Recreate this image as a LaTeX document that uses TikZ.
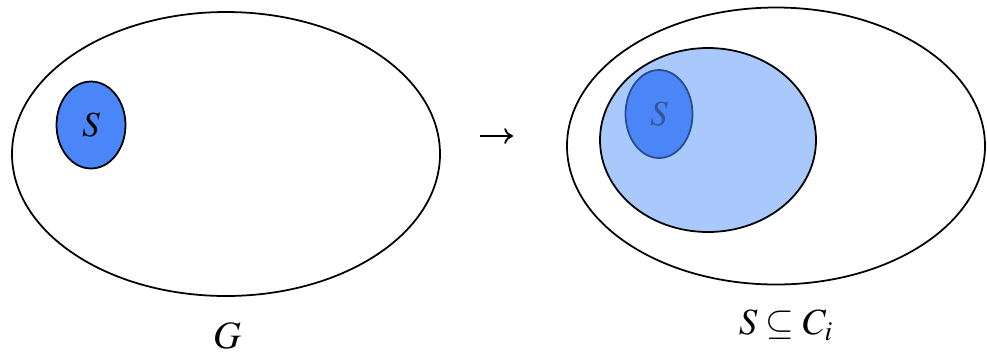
\documentclass[tikz,border=0pt]{standalone}
\usepackage{mathptmx}
\usetikzlibrary{arrows.meta,shapes.geometric}
\definecolor{setblue}{RGB}{74,134,247}
\definecolor{lightblue}{RGB}{169,200,252}
\definecolor{darkrim}{RGB}{40,76,140}
\definecolor{dimtext}{RGB}{52,84,150}
\begin{document}
\begin{tikzpicture}[>={To[length=5pt,width=9pt]},font=\fontsize{20}{24}\selectfont]
\tikzstyle{blob}=[draw,ellipse,line width=1pt,inner sep=0pt]
\useasboundingbox (0,0) rectangle (19.74,-7.12);
% left: the graph G with the set S
\node[blob,minimum width=8.56cm,minimum height=5.68cm] (g) at (4.52,-3.08) {};
\node[blob,fill=setblue,minimum width=1.38cm,minimum height=1.74cm] (s) at (1.82,-2.50) {$S$};
\node[font=\fontsize{22}{26}\selectfont] (gl) at (4.54,-6.72) {$G$};
% middle arrow
\coordinate (a1) at (9.60,-2.72);
\coordinate (a2) at (10.26,-2.72);
\draw[->,line width=1.1pt] (a1) -- (a2);
% right: the component C_i containing S
\node[blob,minimum width=8.36cm,minimum height=5.54cm] (h) at (15.52,-2.92) {};
\node[blob,fill=lightblue,minimum width=4.32cm,minimum height=3.68cm] (c) at (14.16,-2.80) {};
\node[blob,draw=darkrim,fill=setblue,text=dimtext,minimum width=1.34cm,minimum height=1.76cm] (s2) at (13.18,-2.28) {$S$};
\node[font=\fontsize{21}{25}\selectfont] (cl) at (15.72,-6.50) {$S\subseteq C_i$};
\end{tikzpicture}
\end{document}
